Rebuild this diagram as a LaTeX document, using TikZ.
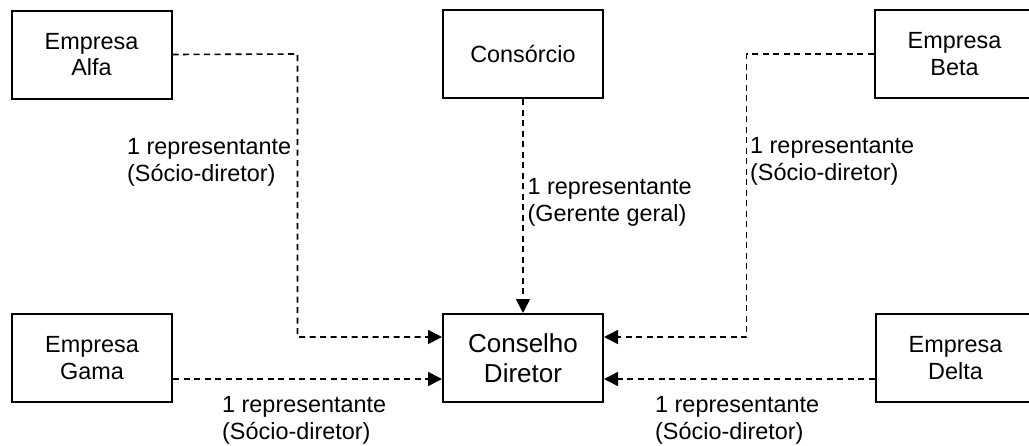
\documentclass[tikz,border=0pt]{standalone}
\usepackage{fontspec}
\setmainfont{Liberation Sans}
\usetikzlibrary{arrows.meta}
\begin{document}
\begin{tikzpicture}[x=1pt,y=-1pt,
  entity/.style={draw=black, line width=2pt, fill=white, minimum width=160pt,
    minimum height=88pt, align=center, inner sep=0pt,
    font=\fontsize{23.4}{26.7}\selectfont},
  council/.style={entity, font=\fontsize{26}{30}\selectfont},
  link/.style={line width=1.6pt, dash pattern=on 6pt off 4.5pt,
    -{Triangle[width=14pt,length=14pt]}},
  plain/.style={line width=1.6pt, dash pattern=on 6pt off 4.5pt},
  note/.style={align=left, inner sep=0pt, anchor=west,
    font=\fontsize{23.4}{27}\selectfont}]
\useasboundingbox (0,0) rectangle (1029,445);
\clip (0,0) rectangle (1029,445);
\fill[white] (0,0) rectangle (1029,445);

% participants
\node[entity]  (alfa)     at (91.5,54.5) {Empresa\\Alfa};
\node[entity]  (cons)     at (523,54)    {Consórcio};
\node[entity]  (beta)     at (954.5,54)  {Empresa\\Beta};
\node[entity]  (gama)     at (92,358)    {Empresa\\Gama};
\node[council] (conselho) at (523,358)   {Conselho\\Diretor};
\node[entity]  (delta)    at (955.5,358) {Empresa\\Delta};

% bends of the upper connectors
\coordinate (alfaturn) at (297.5,54);
\coordinate (betaturn) at (746.5,54);

% representation links
\draw[link] (alfa.east) -- (alfaturn) |- ([yshift=21pt]conselho.west);
\draw[link] (beta.west) -- (betaturn) |- ([yshift=21pt]conselho.east);
\draw[link] (cons.south) -- (conselho.north);
\draw[link] ([yshift=-21pt]gama.east) -- ([yshift=-21pt]conselho.west);
\draw[link] ([yshift=-21pt]delta.west) -- ([yshift=-21pt]conselho.east);

% link labels
\node[note] (lalfa)  at (127,162)   {1 representante\\(Sócio-diretor)};
\node[note] (lbeta)  at (750,161.5) {1 representante\\(Sócio-diretor)};
\node[note] (lcons)  at (527.5,202.5) {1 representante\\(Gerente geral)};
\node[note] (lgama)  at (222,420)   {1 representante\\(Sócio-diretor)};
\node[note] (ldelta) at (655,420)   {1 representante\\(Sócio-diretor)};
\end{tikzpicture}
\end{document}
